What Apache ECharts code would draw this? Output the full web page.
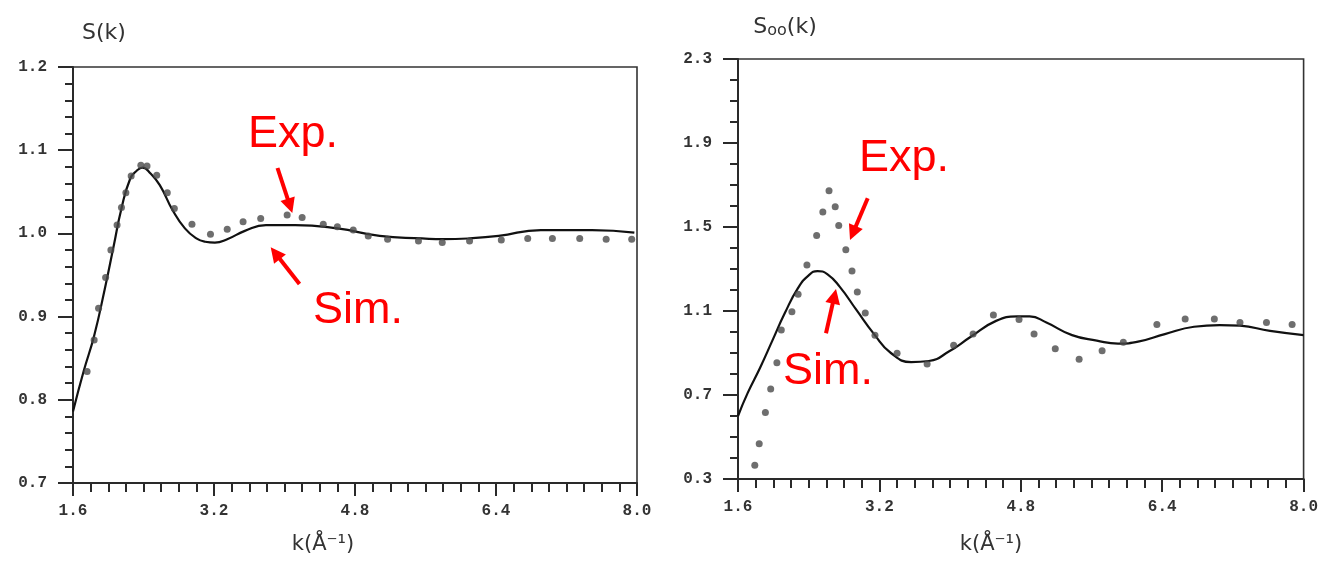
<!DOCTYPE html>
<html>
<head>
<meta charset="utf-8">
<script src="https://cdn.jsdelivr.net/npm/echarts@6/dist/echarts.min.js"></script>
<style>
html,body{margin:0;padding:0;background:#fff;}
#c{width:1321px;height:561px;}
</style>
</head>
<body>
<div id="c"></div>
<script>
// ---- Left panel: S(k) ----
const kSimL = [1.6,1.72,1.84,1.96,2.06,2.15,2.25,2.32,2.39,2.48,2.585,2.73,2.87,3.0,3.1,3.21,3.35,3.55,3.79,4.12,4.6,5.08,5.56,5.8,6.1,6.43,6.91,7.49,7.97];
const sSimL = [0.786,0.834,0.877,0.933,0.984,1.03,1.066,1.075,1.079,1.072,1.058,1.028,1.006,0.994,0.990,0.989,0.993,1.003,1.010,1.010,1.006,0.997,0.994,0.993,0.994,0.997,1.004,1.004,1.001];
const kExpL = [1.76,1.84,1.89,1.97,2.03,2.10,2.15,2.20,2.26,2.37,2.44,2.55,2.67,2.75,2.95,3.16,3.35,3.53,3.73,4.03,4.20,4.44,4.60,4.78,4.95,5.17,5.52,5.79,6.10,6.46,6.76,7.04,7.35,7.65,7.94];
const sExpL = [0.834,0.872,0.910,0.947,0.980,1.010,1.031,1.049,1.069,1.082,1.081,1.070,1.049,1.030,1.011,0.999,1.005,1.014,1.018,1.022,1.019,1.011,1.008,1.004,0.997,0.993,0.991,0.989,0.991,0.992,0.994,0.994,0.994,0.993,0.993];
// ---- Right panel: S_oo(k) ----
const kSimR = [1.6,1.71,1.85,1.99,2.13,2.28,2.40,2.50,2.61,2.75,2.94,3.14,3.33,3.56,3.76,3.99,4.23,4.52,4.76,4.90,5.09,5.38,5.66,5.90,6.14,6.43,6.76,7.05,7.28,7.62,8.0];
const sSimR = [0.60,0.71,0.83,0.96,1.09,1.21,1.27,1.29,1.276,1.216,1.105,0.99,0.90,0.857,0.862,0.908,0.976,1.053,1.074,1.074,1.045,0.985,0.959,0.945,0.955,0.99,1.025,1.033,1.03,1.005,0.985];
const kExpR = [1.79,1.84,1.91,1.97,2.04,2.09,2.21,2.28,2.38,2.49,2.56,2.63,2.70,2.74,2.82,2.89,2.95,3.04,3.15,3.40,3.74,4.04,4.26,4.49,4.78,4.95,5.19,5.46,5.72,5.96,6.34,6.66,6.99,7.28,7.58,7.87];
const sExpR = [0.365,0.468,0.617,0.728,0.853,1.01,1.096,1.18,1.319,1.459,1.572,1.673,1.596,1.507,1.392,1.29,1.19,1.091,0.985,0.899,0.848,0.937,0.99,1.081,1.059,0.99,0.92,0.87,0.911,0.951,1.036,1.062,1.062,1.045,1.045,1.036];
// tick settings
const xRange = [1.6, 8.0], xStep = 1.6;
const yRangeL = [0.7, 1.2], yStepL = 0.1;
const yRangeR = [0.3, 2.3], yStepR = 0.4, yMinorR = 0.1;
const yMajorR = [0.3, 0.7, 1.1, 1.5, 1.9, 2.3];

const pairs = (k, s) => k.map((v, i) => [v, s[i]]);
const AX = '#2a2a2a';
const labelFont = {fontFamily: 'Liberation Mono', fontWeight: 'bold', fontSize: 16, color: '#333'};

function xAxis(gi) {
  return {
    type: 'value', gridIndex: gi, min: xRange[0], max: xRange[1], interval: xStep,
    axisLine: {show: true, lineStyle: {color: AX, width: 2}},
    axisTick: {show: true, inside: false, length: 13, lineStyle: {color: AX, width: 2}},
    minorTick: {show: true, splitNumber: 8, length: 9, lineStyle: {color: AX, width: 2}},
    splitLine: {show: false}, minorSplitLine: {show: false},
    axisLabel: Object.assign({margin: 20, formatter: v => v.toFixed(1)}, labelFont)
  };
}

const chart = echarts.init(document.getElementById('c'), null, {renderer: 'canvas'});

function arrow(x1, y1, x2, y2) {
  const dx = x2 - x1, dy = y2 - y1, L = Math.hypot(dx, dy), ux = dx / L, uy = dy / L;
  const hl = 15, hw = 7.5;
  const bx = x2 - ux * hl, by = y2 - uy * hl;
  return [
    {type: 'line', z: 100, shape: {x1: x1, y1: y1, x2: bx + ux * 2, y2: by + uy * 2}, style: {stroke: '#ff0000', lineWidth: 4}},
    {type: 'polygon', z: 100, shape: {points: [[x2, y2], [bx - uy * hw, by + ux * hw], [bx + uy * hw, by - ux * hw]]}, style: {fill: '#ff0000'}}
  ];
}
function redText(txt, x, y) {
  return {type: 'text', z: 100, x: x, y: y, style: {text: txt, fill: '#ff0000', font: '45px "Liberation Sans", Arial, sans-serif', textAlign: 'left', textVerticalAlign: 'middle'}};
}

const option = {
  animation: false,
  backgroundColor: '#ffffff',
  grid: [
    {left: 73, top: 67, width: 564, height: 416, show: true, borderColor: '#333', borderWidth: 1.6, backgroundColor: 'transparent'},
    {left: 738, top: 59, width: 572, height: 420, show: true, borderColor: '#333', borderWidth: 1.6, backgroundColor: 'transparent'}
  ],
  xAxis: [xAxis(0), xAxis(1)],
  yAxis: [
    {
      type: 'value', gridIndex: 0, min: yRangeL[0], max: yRangeL[1], interval: yStepL,
      axisLine: {show: true, lineStyle: {color: AX, width: 2}},
      axisTick: {show: true, length: 15, lineStyle: {color: AX, width: 2}},
      minorTick: {show: true, splitNumber: 5, length: 8, lineStyle: {color: AX, width: 2}},
      splitLine: {show: false}, minorSplitLine: {show: false},
      axisLabel: Object.assign({margin: 26, formatter: v => v.toFixed(1)}, labelFont)
    },
    {
      type: 'value', gridIndex: 1, min: yRangeR[0], max: yRangeR[1], interval: yMinorR,
      axisLine: {show: true, lineStyle: {color: AX, width: 2}},
      axisTick: {show: true, length: 8, lineStyle: {color: AX, width: 2}},
      splitLine: {show: false},
      axisLabel: Object.assign({margin: 26, formatter: v => {
        const r = (v - yRangeR[0]) / yStepR;
        return Math.abs(r - Math.round(r)) < 1e-6 ? v.toFixed(1) : '';
      }}, labelFont)
    },
    {
      type: 'value', gridIndex: 1, min: yRangeR[0], max: yRangeR[1], position: 'left',
      axisLine: {show: false},
      axisTick: {show: true, length: 15, customValues: yMajorR, lineStyle: {color: AX, width: 2}},
      splitLine: {show: false},
      axisLabel: {show: false}
    }
  ],
  series: [
    {type: 'line', xAxisIndex: 0, yAxisIndex: 0, data: pairs(kSimL, sSimL), smooth: 0.5, showSymbol: false, lineStyle: {color: '#111', width: 2.2}, z: 3},
    {type: 'scatter', xAxisIndex: 0, yAxisIndex: 0, data: pairs(kExpL, sExpL), symbol: 'circle', symbolSize: 7, itemStyle: {color: '#4a4a4a'}, z: 4},
    {type: 'line', xAxisIndex: 1, yAxisIndex: 1, data: pairs(kSimR, sSimR), smooth: 0.5, showSymbol: false, lineStyle: {color: '#111', width: 2.2}, z: 3},
    {type: 'scatter', xAxisIndex: 1, yAxisIndex: 1, data: pairs(kExpR, sExpR), symbol: 'circle', symbolSize: 7, itemStyle: {color: '#4a4a4a'}, z: 4}
  ],
  graphic: [
    {type: 'text', x: 104, y: 33, style: {text: 'S(k)', font: '22px "DejaVu Sans", sans-serif', fill: '#333', textAlign: 'center', textVerticalAlign: 'middle'}},
    {type: 'text', x: 785, y: 27, style: {
      text: '{a|S}{b|oo}{a|(k)}', textAlign: 'center', textVerticalAlign: 'middle',
      rich: {
        a: {fontFamily: 'DejaVu Sans', fontSize: 22, fill: '#333', color: '#333'},
        b: {fontFamily: 'DejaVu Sans', fontSize: 16, fill: '#333', color: '#333', padding: [8, 0, 0, 0]}
      }
    }},
    {type: 'text', x: 323, y: 545, style: {text: 'k(Å⁻¹)', font: '21px "DejaVu Sans", sans-serif', fill: '#333', textAlign: 'center', textVerticalAlign: 'middle'}},
    {type: 'text', x: 991, y: 545, style: {text: 'k(Å⁻¹)', font: '21px "DejaVu Sans", sans-serif', fill: '#333', textAlign: 'center', textVerticalAlign: 'middle'}},
    redText('Exp.', 248, 135),
    redText('Sim.', 313, 311),
    redText('Exp.', 859, 159),
    redText('Sim.', 783, 372)
  ].concat(arrow(277.5, 168, 292.3, 213))
   .concat(arrow(299.5, 284, 270.7, 247.3))
   .concat(arrow(867.7, 198.3, 850, 240))
   .concat(arrow(826, 333.3, 836, 289))
};
chart.setOption(option);
</script>
</body>
</html>
